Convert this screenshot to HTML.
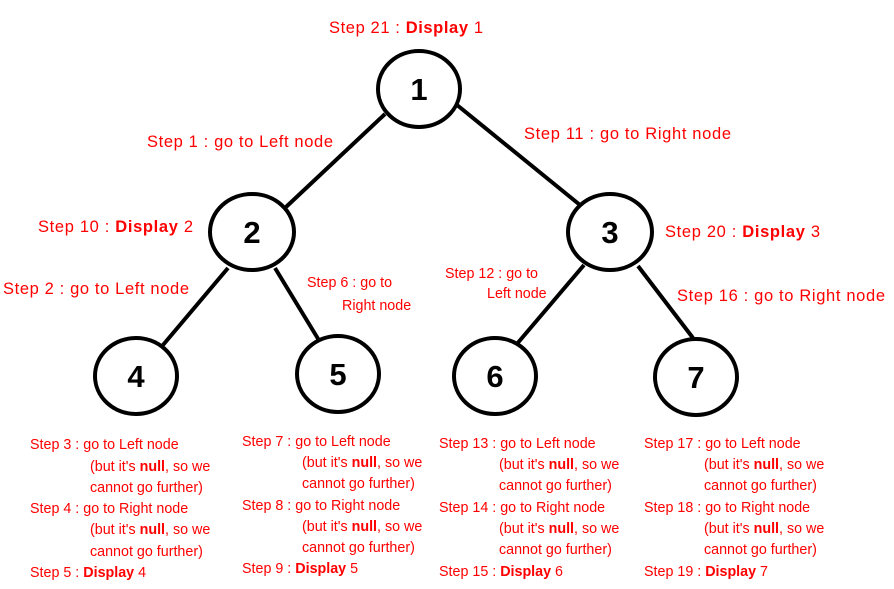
<!DOCTYPE html>
<html><head><style>
html,body{margin:0;padding:0;background:#fff;}
svg{display:block;}
text{font-family:"Liberation Sans",Arial,sans-serif;fill:#ff0000;}
.n{fill:#000;font-weight:bold;font-size:31px;}
.m{font-size:16.5px;}
.s{font-size:14.3px;}
</style></head><body>
<svg width="894" height="589" viewBox="0 0 894 589" xmlns="http://www.w3.org/2000/svg">
<g stroke="#000" stroke-width="4" fill="none">
<line x1="385" y1="114" x2="286" y2="207"/>
<line x1="457" y1="105" x2="580" y2="205"/>
<line x1="228" y1="268" x2="163" y2="345"/>
<line x1="275" y1="268" x2="320" y2="342"/>
<line x1="584" y1="265" x2="516" y2="345"/>
<line x1="638" y1="266" x2="693" y2="338"/>
<ellipse cx="419" cy="89" rx="41" ry="38" fill="#fff"/>
<ellipse cx="252" cy="232" rx="42" ry="38" fill="#fff"/>
<ellipse cx="610" cy="232" rx="42" ry="38" fill="#fff"/>
<ellipse cx="136" cy="376" rx="41" ry="38" fill="#fff"/>
<ellipse cx="338" cy="374" rx="41" ry="38" fill="#fff"/>
<ellipse cx="495" cy="376" rx="41" ry="38" fill="#fff"/>
<ellipse cx="696" cy="377" rx="41" ry="38" fill="#fff"/>
</g>
<text class="n" x="419" y="100" text-anchor="middle">1</text>
<text class="n" x="252" y="243" text-anchor="middle">2</text>
<text class="n" x="610" y="243" text-anchor="middle">3</text>
<text class="n" x="136" y="387" text-anchor="middle">4</text>
<text class="n" x="338" y="385" text-anchor="middle">5</text>
<text class="n" x="495" y="387" text-anchor="middle">6</text>
<text class="n" x="696" y="388" text-anchor="middle">7</text>

<text class="m" x="329" y="33" textLength="154" lengthAdjust="spacing">Step 21 : <tspan font-weight="bold">Display</tspan> 1</text>
<text class="m" x="147" y="147" textLength="186" lengthAdjust="spacing">Step 1 : go to Left node</text>
<text class="m" x="524" y="139" textLength="207" lengthAdjust="spacing">Step 11 : go to Right node</text>
<text class="m" x="38" y="232" textLength="155" lengthAdjust="spacing">Step 10 : <tspan font-weight="bold">Display</tspan> 2</text>
<text class="m" x="665" y="237" textLength="155" lengthAdjust="spacing">Step 20 : <tspan font-weight="bold">Display</tspan> 3</text>
<text class="m" x="3" y="294" textLength="186" lengthAdjust="spacing">Step 2 : go to Left node</text>
<text class="m" x="677" y="301" textLength="208" lengthAdjust="spacing">Step 16 : go to Right node</text>
<text class="s" x="307" y="287">Step 6 : go to</text>
<text class="s" x="342" y="310">Right node</text>
<text class="s" x="445" y="278">Step 12 : go to</text>
<text class="s" x="487" y="298">Left node</text>

<text class="s" x="30" y="449">Step 3 : go to Left node</text>
<text class="s" x="90" y="471">(but it's <tspan font-weight="bold">null</tspan>, so we</text>
<text class="s" x="90" y="492">cannot go further)</text>
<text class="s" x="30" y="513">Step 4 : go to Right node</text>
<text class="s" x="90" y="534">(but it's <tspan font-weight="bold">null</tspan>, so we</text>
<text class="s" x="90" y="556">cannot go further)</text>
<text class="s" x="30" y="577">Step 5 : <tspan font-weight="bold">Display</tspan> 4</text>

<text class="s" x="242" y="446">Step 7 : go to Left node</text>
<text class="s" x="302" y="467">(but it's <tspan font-weight="bold">null</tspan>, so we</text>
<text class="s" x="302" y="488">cannot go further)</text>
<text class="s" x="242" y="510">Step 8 : go to Right node</text>
<text class="s" x="302" y="531">(but it's <tspan font-weight="bold">null</tspan>, so we</text>
<text class="s" x="302" y="552">cannot go further)</text>
<text class="s" x="242" y="573">Step 9 : <tspan font-weight="bold">Display</tspan> 5</text>

<text class="s" x="439" y="448">Step 13 : go to Left node</text>
<text class="s" x="499" y="469">(but it's <tspan font-weight="bold">null</tspan>, so we</text>
<text class="s" x="499" y="490">cannot go further)</text>
<text class="s" x="439" y="512">Step 14 : go to Right node</text>
<text class="s" x="499" y="533">(but it's <tspan font-weight="bold">null</tspan>, so we</text>
<text class="s" x="499" y="554">cannot go further)</text>
<text class="s" x="439" y="576">Step 15 : <tspan font-weight="bold">Display</tspan> 6</text>

<text class="s" x="644" y="448">Step 17 : go to Left node</text>
<text class="s" x="704" y="469">(but it's <tspan font-weight="bold">null</tspan>, so we</text>
<text class="s" x="704" y="490">cannot go further)</text>
<text class="s" x="644" y="512">Step 18 : go to Right node</text>
<text class="s" x="704" y="533">(but it's <tspan font-weight="bold">null</tspan>, so we</text>
<text class="s" x="704" y="554">cannot go further)</text>
<text class="s" x="644" y="576">Step 19 : <tspan font-weight="bold">Display</tspan> 7</text>
</svg>
</body></html>
